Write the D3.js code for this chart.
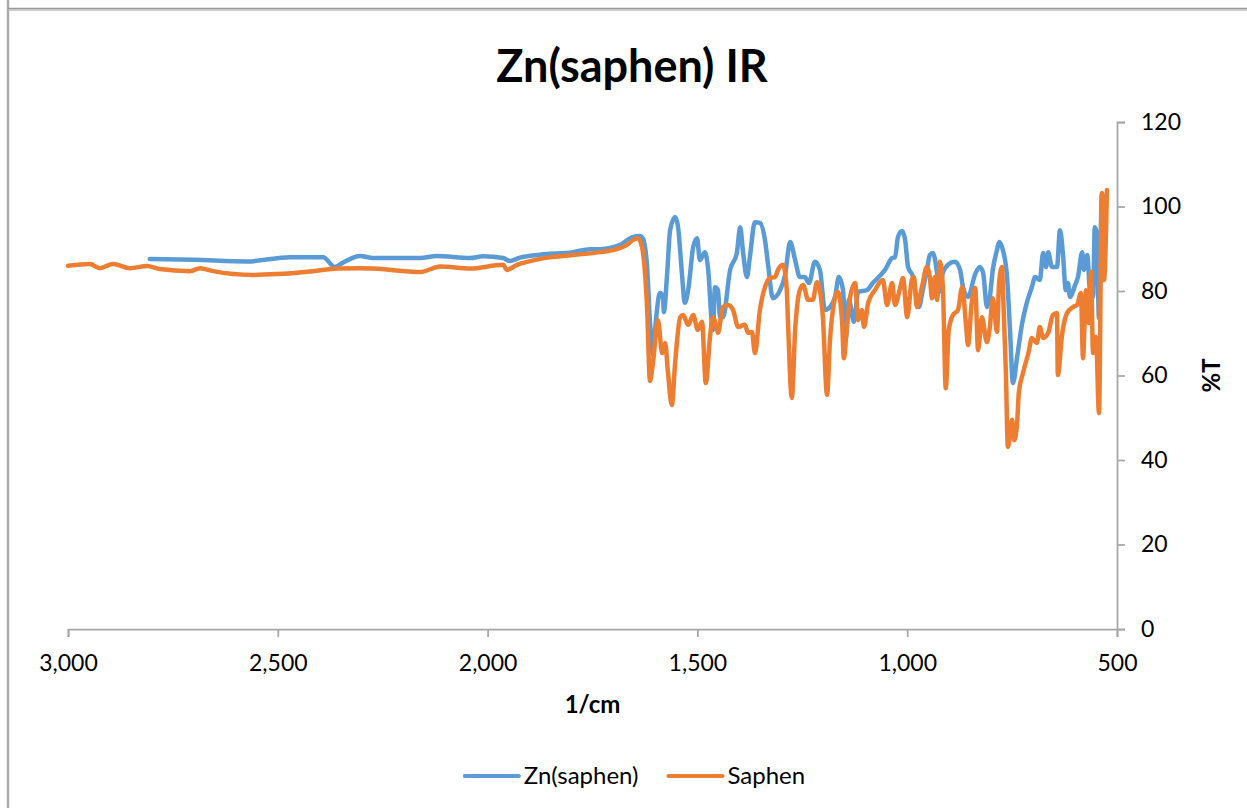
<!DOCTYPE html>
<html>
<head>
<meta charset="utf-8">
<script src="https://cdn.jsdelivr.net/npm/d3@7"></script>
<style>
  body { margin: 0; background: #fff; }
  svg { display: block; font-family: Lato, 'Open Sans', sans-serif; }
</style>
</head>
<body>
<svg id="chart" width="1247" height="808"></svg>
<script>
// IR spectra (wavenumber in 1/cm, %T)
const zincWavenumbers = [
  2805, 2700, 2573, 2471, 2392, 2364, 2347, 2304, 2273, 2161,
  2121, 2042, 2011, 1963, 1947, 1923, 1875, 1796, 1756, 1732,
  1684, 1653, 1637, 1630, 1620, 1613, 1606, 1601, 1589, 1582,
  1580, 1572, 1565, 1553, 1546, 1537, 1530, 1522, 1510, 1501,
  1494, 1482, 1475, 1463, 1458, 1451, 1446, 1439, 1422, 1406,
  1398, 1391, 1382, 1375, 1363, 1351, 1339, 1332, 1320, 1303,
  1291, 1279, 1267, 1256, 1244, 1234, 1220, 1208, 1196, 1184,
  1172, 1163, 1153, 1146, 1139, 1127, 1117, 1096, 1082, 1065,
  1053, 1036, 1029, 1022, 1012, 1005, 998, 986, 977, 972,
  963, 953, 946, 939, 929, 924, 915, 903, 886, 874,
  867, 855, 838, 827, 819, 810, 803, 796, 786, 781,
  772, 762, 755, 748, 738, 726, 715, 703, 695, 684,
  676, 669, 664, 655, 643, 636, 629, 622, 617, 612,
  600, 593, 583, 579, 571, 564, 557, 553, 548, 543,
  536, 531
]
const zincTransmittance = [
  87.6, 87.4, 87.0, 88.0, 88.0, 85.7, 86.6, 88.3, 87.8, 87.8,
  88.3, 87.8, 88.2, 87.8, 87.1, 87.9, 88.6, 89.2, 89.9, 89.9,
  90.9, 92.8, 93.0, 92.5, 85.9, 72.7, 64.9, 70.8, 79.5, 78.6,
  75.0, 84.3, 94.4, 97.5, 95.1, 84.3, 77.2, 80.2, 90.4, 92.5,
  87.3, 89.2, 85.7, 70.8, 80.9, 80.2, 73.8, 73.8, 85.0, 89.0,
  95.1, 89.0, 83.3, 88.0, 96.3, 96.1, 92.1, 86.6, 78.3, 80.2,
  83.8, 91.6, 87.3, 83.3, 83.3, 81.9, 86.9, 85.0, 75.5, 76.2,
  78.6, 83.3, 80.2, 69.1, 77.9, 72.7, 79.8, 80.2, 81.9, 83.6,
  85.0, 87.8, 88.0, 92.8, 94.2, 92.1, 85.7, 83.3, 77.9, 76.2,
  80.2, 85.0, 88.5, 89.0, 84.3, 79.8, 84.3, 86.2, 86.9, 85.0,
  80.9, 78.6, 84.0, 85.7, 84.3, 76.2, 78.6, 85.0, 89.7, 91.6,
  89.7, 83.3, 70.8, 58.2, 64.4, 72.4, 77.2, 80.9, 83.3, 82.6,
  89.0, 85.7, 89.2, 85.7, 85.7, 94.4, 89.0, 80.2, 81.9, 78.6,
  81.4, 83.3, 89.2, 85.0, 88.5, 79.5, 78.6, 95.1, 93.7, 73.6,
  102.7, 102.3
]

const saphenWavenumbers = [
  3000, 2948, 2924, 2893, 2852, 2812, 2781, 2709, 2685, 2654,
  2559, 2502, 2416, 2359, 2304, 2273, 2161, 2113, 2042, 1963,
  1954, 1930, 1906, 1875, 1796, 1732, 1701, 1668, 1653, 1642,
  1632, 1620, 1613, 1606, 1594, 1584, 1577, 1570, 1561, 1553,
  1541, 1534, 1522, 1510, 1499, 1489, 1480, 1470, 1463, 1453,
  1451, 1439, 1427, 1415, 1403, 1387, 1379, 1370, 1363, 1351,
  1339, 1327, 1315, 1308, 1296, 1287, 1284, 1275, 1267, 1256,
  1248, 1236, 1225, 1215, 1208, 1201, 1191, 1184, 1177, 1165,
  1155, 1151, 1143, 1136, 1124, 1117, 1108, 1103, 1093, 1077,
  1058, 1048, 1036, 1029, 1017, 1010, 1000, 989, 984, 977,
  965, 953, 946, 941, 934, 929, 922, 915, 908, 901,
  891, 879, 869, 860, 855, 846, 838, 831, 822, 810,
  803, 796, 786, 781, 774, 772, 765, 760, 750, 745,
  738, 734, 724, 710, 703, 691, 684, 676, 664, 653,
  643, 641, 631, 619, 605, 595, 586, 581, 574, 567,
  562, 557, 550, 543, 536, 531, 524
]
const saphenTransmittance = [
  86.0, 86.4, 85.4, 86.4, 85.4, 85.9, 85.2, 84.7, 85.4, 84.7,
  83.8, 84.0, 84.7, 85.3, 85.4, 85.3, 84.5, 85.8, 85.3, 86.2,
  85.0, 86.2, 86.9, 87.6, 88.5, 89.2, 89.7, 90.9, 92.1, 92.5,
  90.4, 76.2, 58.7, 63.0, 73.1, 65.3, 67.7, 60.6, 53.0, 63.0,
  73.8, 74.3, 72.0, 74.3, 70.8, 72.7, 58.2, 69.1, 73.8, 70.8,
  70.1, 76.2, 76.7, 75.5, 71.5, 72.0, 70.1, 70.3, 65.3, 75.5,
  80.9, 83.1, 83.3, 85.0, 86.2, 80.2, 72.4, 54.7, 70.8, 80.2,
  81.4, 77.9, 77.9, 82.1, 80.2, 73.8, 55.4, 68.4, 75.5, 79.8,
  72.4, 64.1, 72.4, 78.6, 81.9, 73.1, 75.5, 71.5, 77.2, 80.2,
  82.6, 76.7, 81.9, 76.7, 80.7, 83.1, 73.8, 82.6, 83.3, 76.2,
  80.9, 85.7, 83.3, 78.3, 83.3, 77.9, 86.9, 80.9, 57.0, 70.8,
  74.3, 75.5, 80.9, 72.2, 67.2, 77.5, 80.7, 66.0, 73.8, 67.9,
  71.5, 78.3, 70.3, 81.9, 85.7, 80.9, 61.3, 43.1, 49.5, 44.7,
  48.8, 55.9, 60.6, 65.8, 68.9, 67.7, 71.5, 68.9, 70.1, 74.3,
  74.8, 60.1, 69.6, 74.8, 76.2, 76.7, 79.5, 64.1, 80.2, 72.4,
  84.5, 65.3, 69.1, 51.1, 103.2, 82.6, 103.9
]

const seriesNames = ['Zn(saphen)', 'Saphen']
const seriesColors = ['#5b9bd5', '#ed7d31']
const xTicks = [3000, 2500, 2000, 1500, 1000, 500]
const yTicks = [0, 20, 40, 60, 80, 100, 120]

const svg = d3.select('#chart')
const axisColor = '#a6a6a6'

// chart frame (left edge and top edge of the Excel chart area)
svg.append('line')
  .attr('x1', 8).attr('x2', 8).attr('y1', 0).attr('y2', 808)
  .attr('stroke', '#aaa').attr('stroke-width', 2.5)
svg.append('line')
  .attr('x1', 8).attr('x2', 1247).attr('y1', 8.5).attr('y2', 8.5)
  .attr('stroke', '#999').attr('stroke-width', 1.5)
svg.append('line')
  .attr('x1', 8).attr('x2', 1247).attr('y1', 10).attr('y2', 10)
  .attr('stroke', '#bdbdbd').attr('stroke-width', 1.5)

const x = d3.scaleLinear().domain([3000, 500]).range([68, 1117])
const y = d3.scaleLinear().domain([0, 120]).range([629, 122])

const series = [
  { name: seriesNames[0], color: seriesColors[0], values: zincWavenumbers.map((wn, i) => ({ wn, t: zincTransmittance[i] })) },
  { name: seriesNames[1], color: seriesColors[1], values: saphenWavenumbers.map((wn, i) => ({ wn, t: saphenTransmittance[i] })) }
]

const styleAxis = g => {
  g.select('.domain').attr('stroke', axisColor).attr('stroke-width', 1.75)
  g.selectAll('.tick line').attr('stroke', axisColor).attr('stroke-width', 1.75)
  g.selectAll('.tick text').attr('fill', '#000').attr('font-size', 23)
  g.attr('font-family', null)
}

svg.append('g')
  .attr('transform', 'translate(0,' + y(0) + ')')
  .call(d3.axisBottom(x).tickValues(xTicks).tickFormat(d3.format(',')).tickSize(8).tickPadding(18))
  .call(styleAxis)

svg.append('g')
  .attr('transform', 'translate(' + x(500) + ',0)')
  .call(d3.axisRight(y).tickValues(yTicks).tickSize(8).tickPadding(16))
  .call(styleAxis)

// smooth the traced points a little, the way the spectrometer export looks
const line = d3.line()
  .curve(d3.curveMonotoneX)
  .x(d => x(d.wn))
  .y(d => y(d.t))

svg.append('g')
  .selectAll('path')
  .data(series).enter()
  .append('path')
  .attr('d', d => line(d.values))
  .attr('fill', 'none')
  .attr('stroke', d => d.color)
  .attr('stroke-width', 4.5)
  .attr('stroke-linejoin', 'round')
  .attr('stroke-linecap', 'round')

svg.append('text')
  .attr('x', 632).attr('y', 82)
  .attr('text-anchor', 'middle')
  .attr('font-size', 45).attr('font-weight', 'bold')
  .text('Zn(saphen) IR')

svg.append('text')
  .attr('x', (x(3000) + x(500)) / 2).attr('y', 713)
  .attr('text-anchor', 'middle')
  .attr('font-size', 24).attr('font-weight', 'bold')
  .text('1/cm')

svg.append('text')
  .attr('transform', 'translate(1212,' + (y(0) + y(120)) / 2 + ') rotate(-90)')
  .attr('text-anchor', 'middle')
  .attr('dy', '0.35em')
  .attr('font-size', 24).attr('font-weight', 'bold')
  .text('%T')

// legend, laid out left to right and centred under the chart
const legend = svg.append('g')
let cursor = 0
series.forEach(s => {
  const item = legend.append('g').attr('transform', 'translate(' + cursor + ',0)')
  item.append('line')
    .attr('x1', 0).attr('x2', 54)
    .attr('stroke', s.color).attr('stroke-width', 4).attr('stroke-linecap', 'round')
  const label = item.append('text')
    .attr('x', 59).attr('dy', '0.35em')
    .attr('font-size', 24)
    .text(s.name)
  cursor += 59 + label.node().getComputedTextLength() + 30
})
const legendWidth = cursor - 30
legend.attr('transform', 'translate(' + (635 - legendWidth / 2) + ',776)')
</script>
</body>
</html>
